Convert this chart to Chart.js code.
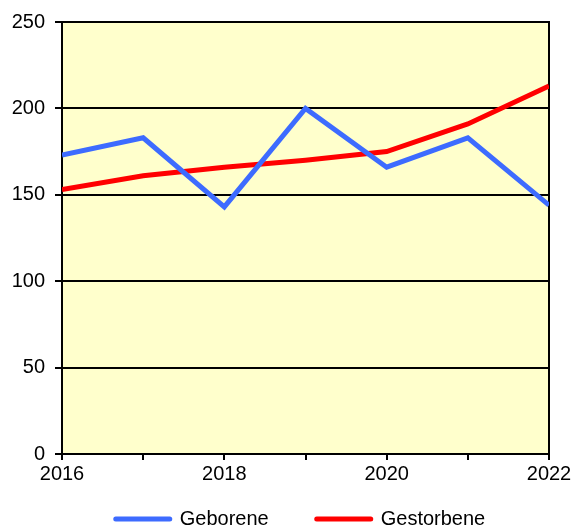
<!DOCTYPE html>
<html>
<head>
<meta charset="utf-8">
<script src="https://cdn.jsdelivr.net/npm/chart.js@4/dist/chart.umd.min.js"></script>
<style>
  html, body { margin: 0; padding: 0; background: #fff; }
</style>
</head>
<body>
<canvas id="chart" width="576" height="529"></canvas>
<script>
const years = [2016, 2017, 2018, 2019, 2020, 2021, 2022];
const geborene = [173, 183, 143, 200, 166, 183, 144];
const gestorbene = [153, 161, 166, 170, 175, 191, 213];

const plotBackground = {
    id: "plotBackground",
    afterLayout(chart) {
        // legende etwas nach unten/rechts schieben
        const lg = chart.legend;
        lg.top = 461;
        lg.left += 26;
        lg.right += 26;
    },
    beforeDraw(chart) {
        const { ctx, chartArea: a } = chart;
        ctx.save();
        ctx.fillStyle = "#ffffcc";
        ctx.fillRect(a.left, a.top, a.right - a.left, a.bottom - a.top);
        ctx.restore();
    },
    beforeDatasetsDraw(chart) {
        const { ctx, chartArea: a } = chart;
        ctx.save();
        ctx.strokeStyle = "#000";
        ctx.lineWidth = 2;
        ctx.beginPath();
        ctx.moveTo(a.left, a.top);
        ctx.lineTo(a.right, a.top);
        ctx.lineTo(a.right, a.bottom);
        ctx.stroke();
        ctx.restore();
    }
};

function toPoints(values) {
    return years.map((y, i) => ({ x: y, y: values[i] }));
}

Chart.defaults.font.family = "'Liberation Sans', Arial, sans-serif";
Chart.defaults.font.size = 20;
Chart.defaults.color = "#000";

new Chart(document.getElementById("chart"), {
    type: "line",
    data: {
        datasets: [
            {
                label: "Geborene",
                data: toPoints(geborene),
                borderColor: "#3d6bff",
                backgroundColor: "#3d6bff",
                borderWidth: 5,
                pointRadius: 0,
                tension: 0,
            },
            {
                label: "Gestorbene",
                data: toPoints(gestorbene),
                borderColor: "#ff0000",
                backgroundColor: "#ff0000",
                borderWidth: 5,
                pointRadius: 0,
                tension: 0,
            },
        ],
    },
    options: {
        responsive: false,
        animation: false,
        layout: { padding: { left: 0, right: 27, top: 20, bottom: 0 } },
        scales: {
            x: {
                type: "linear",
                min: 2016,
                max: 2022,
                afterFit: (s) => { s.height = 44; },
                border: { display: true, color: "#000", width: 2 },
                grid: { drawOnChartArea: false, color: "#000", lineWidth: 2, tickLength: 6 },
                ticks: {
                    stepSize: 1,
                    autoSkip: false,
                    maxRotation: 0,
                    padding: 2,
                    callback: (v) => (v % 2 === 0 ? String(v) : ""),
                },
            },
            y: {
                min: 0,
                max: 250,
                afterFit: (s) => { s.width = 62; },
                border: { display: true, color: "#000", width: 2 },
                grid: { color: "#000", lineWidth: 2, tickLength: 7 },
                ticks: { stepSize: 50, padding: 10 },
            },
        },
        plugins: {
            tooltip: { enabled: false },
            legend: {
                position: "bottom",
                maxHeight: 31,
                labels: {
                    usePointStyle: true,
                    pointStyle: "line",
                    pointStyleWidth: 54,
                    padding: 48,
                    generateLabels(chart) {
                        return chart.data.datasets.map((ds, i) => ({
                            text: ds.label,
                            fillStyle: ds.borderColor,
                            strokeStyle: ds.borderColor,
                            lineWidth: 5,
                            lineCap: "round",
                            pointStyle: "line",
                            fontColor: "#000",
                            datasetIndex: i,
                            hidden: false,
                        }));
                    },
                },
            },
        },
    },
    plugins: [plotBackground],
});
</script>
</body>
</html>
